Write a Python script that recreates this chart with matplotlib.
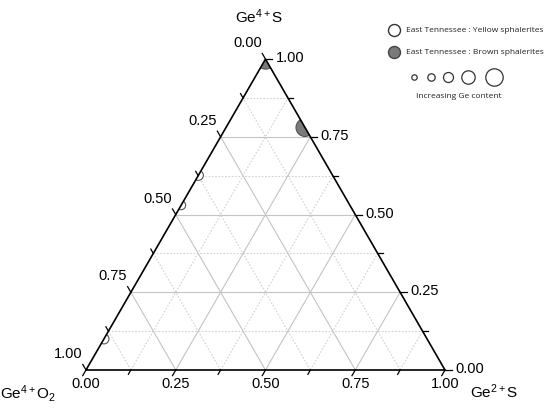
import numpy as np
import matplotlib
matplotlib.use("Agg")
import matplotlib.pyplot as plt
from matplotlib.patches import Polygon
from matplotlib.transforms import offset_copy

plt.rcParams['font.family'] = ['Liberation Sans', 'DejaVu Sans']
plt.rcParams['mathtext.fontset'] = 'custom'
plt.rcParams['mathtext.rm'] = 'Liberation Sans'
plt.rcParams['mathtext.it'] = 'Liberation Sans'

# ---- data (ternary fractions) ----
# components: Ge4+O2 (bottom-left), Ge2+S (bottom-right), Ge4+S (top)
yellow_geO2 = [0.374, 0.47, 0.90]
yellow_ge2S = [0.0, 0.0, 0.0]
yellow_ge4S = [0.626, 0.53, 0.10]
yellow_ge_size = [5.0, 4.5, 5.0]      # marker radius (relative Ge content)

brown_geO2 = [0.0, 0.0]
brown_ge2S = [0.22, 0.0]
brown_ge4S = [0.78, 1.0]
brown_ge_size = [9.0, 10.0]

tick_vals = [0.0, 0.25, 0.5, 0.75, 1.0]
tick_labels = ["0.00", "0.25", "0.50", "0.75", "1.00"]
minor_vals = [0.125, 0.375, 0.625, 0.875]

title_top = r"$\mathregular{Ge^{4+}S}$"
title_left = r"$\mathregular{Ge^{4+}O_2}$"
title_right = r"$\mathregular{Ge^{2+}S}$"
legend_labels = ["East Tennessee : Yellow sphalerites", "East Tennessee : Brown sphalerites"]
legend_note = "Increasing Ge content"
legend_size_steps = [2.7, 3.7, 5.0, 6.7, 8.7]

H = np.sqrt(3) / 2


def tern(a, b, c):
    a, b, c = np.asarray(a, float), np.asarray(b, float), np.asarray(c, float)
    s = a + b + c
    return (b + c / 2) / s, (c * H) / s


W, Hpx = 550, 412
fig = plt.figure(figsize=(5.5, 4.12), dpi=100)
ax = fig.add_axes([0, 0, 1, 1])
unit = 359.0
x0p, y0p = 86.0, 370.0
ax.set_xlim(-x0p / unit, (W - x0p) / unit)
ax.set_ylim(-(Hpx - y0p) / unit, y0p / unit)
ax.axis('off')


def px(xp, yp):
    return (xp - x0p) / unit, (y0p - yp) / unit


def s_from_r(r):
    return (2 * r * 0.72) ** 2


# grid lines
for v in minor_vals + [0.25, 0.5, 0.75]:
    solid = v in (0.25, 0.5, 0.75)
    kw = dict(color='#c4c4c4', lw=0.8, ls='-') if solid else dict(color='#d2d2d2', lw=0.8, ls=(0, (1.5, 1.5)))
    xs, ys = tern([1 - v, 0], [0, 1 - v], [v, v])
    ax.plot(xs, ys, zorder=1, **kw)
    xs, ys = tern([1 - v, 0], [v, v], [0, 1 - v])
    ax.plot(xs, ys, zorder=1, **kw)
    xs, ys = tern([v, v], [1 - v, 0], [0, 1 - v])
    ax.plot(xs, ys, zorder=1, **kw)

# triangle frame
tx, ty = tern([1, 0, 0, 1], [0, 1, 0, 0], [0, 0, 1, 0])
ax.plot(tx, ty, color='black', lw=1.2, zorder=4, solid_joinstyle='miter')
tri = Polygon(np.column_stack([tx[:3], ty[:3]]), closed=True,
              facecolor='none', edgecolor='none')
ax.add_patch(tri)

# ticks
L = 6.5 / unit
Lm = 5.0 / unit
for v in tick_vals + minor_vals:
    ln = L if v in tick_vals else Lm
    x, y = tern(v, 0, 1 - v)
    ax.plot([x, x - 0.5 * ln], [y, y + H * ln], color='black', lw=0.9, zorder=4)
    x, y = tern(0, 1 - v, v)
    ax.plot([x, x + ln], [y, y], color='black', lw=0.9, zorder=4)
    x, y = tern(1 - v, v, 0)
    ax.plot([x, x - 0.5 * ln], [y, y - H * ln], color='black', lw=0.9, zorder=4)

fs = 10.5
for v, lab in zip(tick_vals, tick_labels):
    x, y = tern(v, 0, 1 - v)
    ax.text(x, y, lab, fontsize=fs, ha='center', va='center',
            transform=offset_copy(ax.transData, fig=fig, x=-18, y=16, units='dots'))
    x, y = tern(0, 1 - v, v)
    ax.text(x, y, lab, fontsize=fs, ha='left', va='center',
            transform=offset_copy(ax.transData, fig=fig, x=10, y=1, units='dots'))
    x, y = tern(1 - v, v, 0)
    ax.text(x, y, lab, fontsize=fs, ha='center', va='center',
            transform=offset_copy(ax.transData, fig=fig, x=0, y=-14, units='dots'))

# corner titles
tfs = 11
x, y = tern(0, 0, 1)
ax.text(x, y, title_top, fontsize=tfs, ha='center', va='center',
        transform=offset_copy(ax.transData, fig=fig, x=-6, y=42, units='dots'))
x, y = tern(1, 0, 0)
ax.text(x, y, title_left, fontsize=tfs, ha='center', va='center',
        transform=offset_copy(ax.transData, fig=fig, x=-58, y=-24, units='dots'))
x, y = tern(0, 1, 0)
ax.text(x, y, title_right, fontsize=tfs, ha='center', va='center',
        transform=offset_copy(ax.transData, fig=fig, x=49, y=-22, units='dots'))

# data points (clipped to the triangle)
xs, ys = tern(yellow_geO2, yellow_ge2S, yellow_ge4S)
sc = ax.scatter(xs, ys, s=[s_from_r(r) for r in yellow_ge_size], facecolor='white',
                edgecolor='#555555', linewidths=0.8, zorder=3)
sc.set_clip_path(tri)
xs, ys = tern(brown_geO2, brown_ge2S, brown_ge4S)
sc = ax.scatter(xs, ys, s=[s_from_r(r) for r in brown_ge_size], facecolor='#7a7a7a',
                edgecolor='#555555', linewidths=0.8, zorder=3)
sc.set_clip_path(tri)

# legend
lx, ly = px(394, 30)
ax.scatter([lx], [ly], s=s_from_r(6), facecolor='white', edgecolor='#333333', linewidths=1.0, clip_on=False)
lx2, ly2 = px(394, 52)
ax.scatter([lx2], [ly2], s=s_from_r(6), facecolor='#7a7a7a', edgecolor='#444444', linewidths=1.0, clip_on=False)
lfam = ['Open Sans', 'DejaVu Sans']
lfs = 6.0
tx_, ty_ = px(406, 30)
ax.text(tx_, ty_, legend_labels[0], fontsize=lfs, family=lfam, ha='left', va='center', color='#222222')
tx_, ty_ = px(406, 52)
ax.text(tx_, ty_, legend_labels[1], fontsize=lfs, family=lfam, ha='left', va='center', color='#222222')
cx = [414, 431, 448, 468, 494]
for xp, r in zip(cx, legend_size_steps):
    a, b = px(xp, 77)
    ax.scatter([a], [b], s=s_from_r(r), facecolor='white', edgecolor='#333333', linewidths=0.9, clip_on=False)
tx_, ty_ = px(459, 96)
ax.text(tx_, ty_, legend_note, fontsize=lfs, family=lfam, ha='center', va='center', color='#222222')

fig.savefig("out.png", dpi=100)
